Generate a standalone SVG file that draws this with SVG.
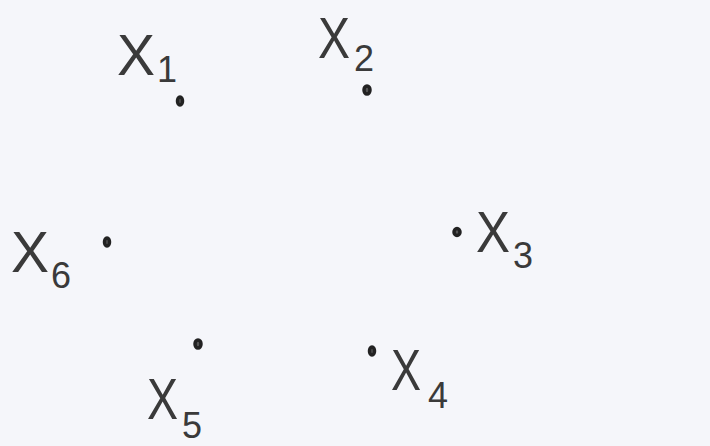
<svg xmlns="http://www.w3.org/2000/svg" width="710" height="446" viewBox="0 0 710 446">
<style>
.bg{fill:#f5f6fa}
.dot{fill:#555;stroke:#222;stroke-width:3.5}
.x{font-family:"Liberation Sans",Arial,sans-serif;font-size:58px;fill:#3a3a3a}
.s{font-family:"Liberation Sans",Arial,sans-serif;font-size:36px;fill:#3a3a3a}
</style>
<rect class="bg" width="710" height="446"/>
<g id="X1">
<ellipse class="dot" cx="180" cy="101" rx="2.5" ry="4"/>
<text class="x" x="117" y="75" textLength="38" lengthAdjust="spacingAndGlyphs">X</text>
<text class="s" x="157" y="82">1</text>
</g>
<g id="X2">
<ellipse class="dot" cx="367" cy="90" rx="3" ry="4"/>
<text class="x" x="318" y="58" textLength="32" lengthAdjust="spacingAndGlyphs">X</text>
<text class="s" x="354" y="71">2</text>
</g>
<g id="X3">
<ellipse class="dot" cx="457" cy="232" rx="3" ry="3.5"/>
<text class="x" x="476" y="252" textLength="34" lengthAdjust="spacingAndGlyphs">X</text>
<text class="s" x="513" y="268">3</text>
</g>
<g id="X4">
<ellipse class="dot" cx="372" cy="351" rx="2.5" ry="4"/>
<text class="x" x="391" y="390" textLength="30" lengthAdjust="spacingAndGlyphs">X</text>
<text class="s" x="428" y="408">4</text>
</g>
<g id="X5">
<ellipse class="dot" cx="198" cy="344" rx="3" ry="4"/>
<text class="x" x="147" y="419" textLength="31" lengthAdjust="spacingAndGlyphs">X</text>
<text class="s" x="182" y="438">5</text>
</g>
<g id="X6">
<ellipse class="dot" cx="107" cy="242" rx="2.5" ry="4"/>
<text class="x" x="11" y="272" textLength="38" lengthAdjust="spacingAndGlyphs">X</text>
<text class="s" x="51" y="288">6</text>
</g>
</svg>
